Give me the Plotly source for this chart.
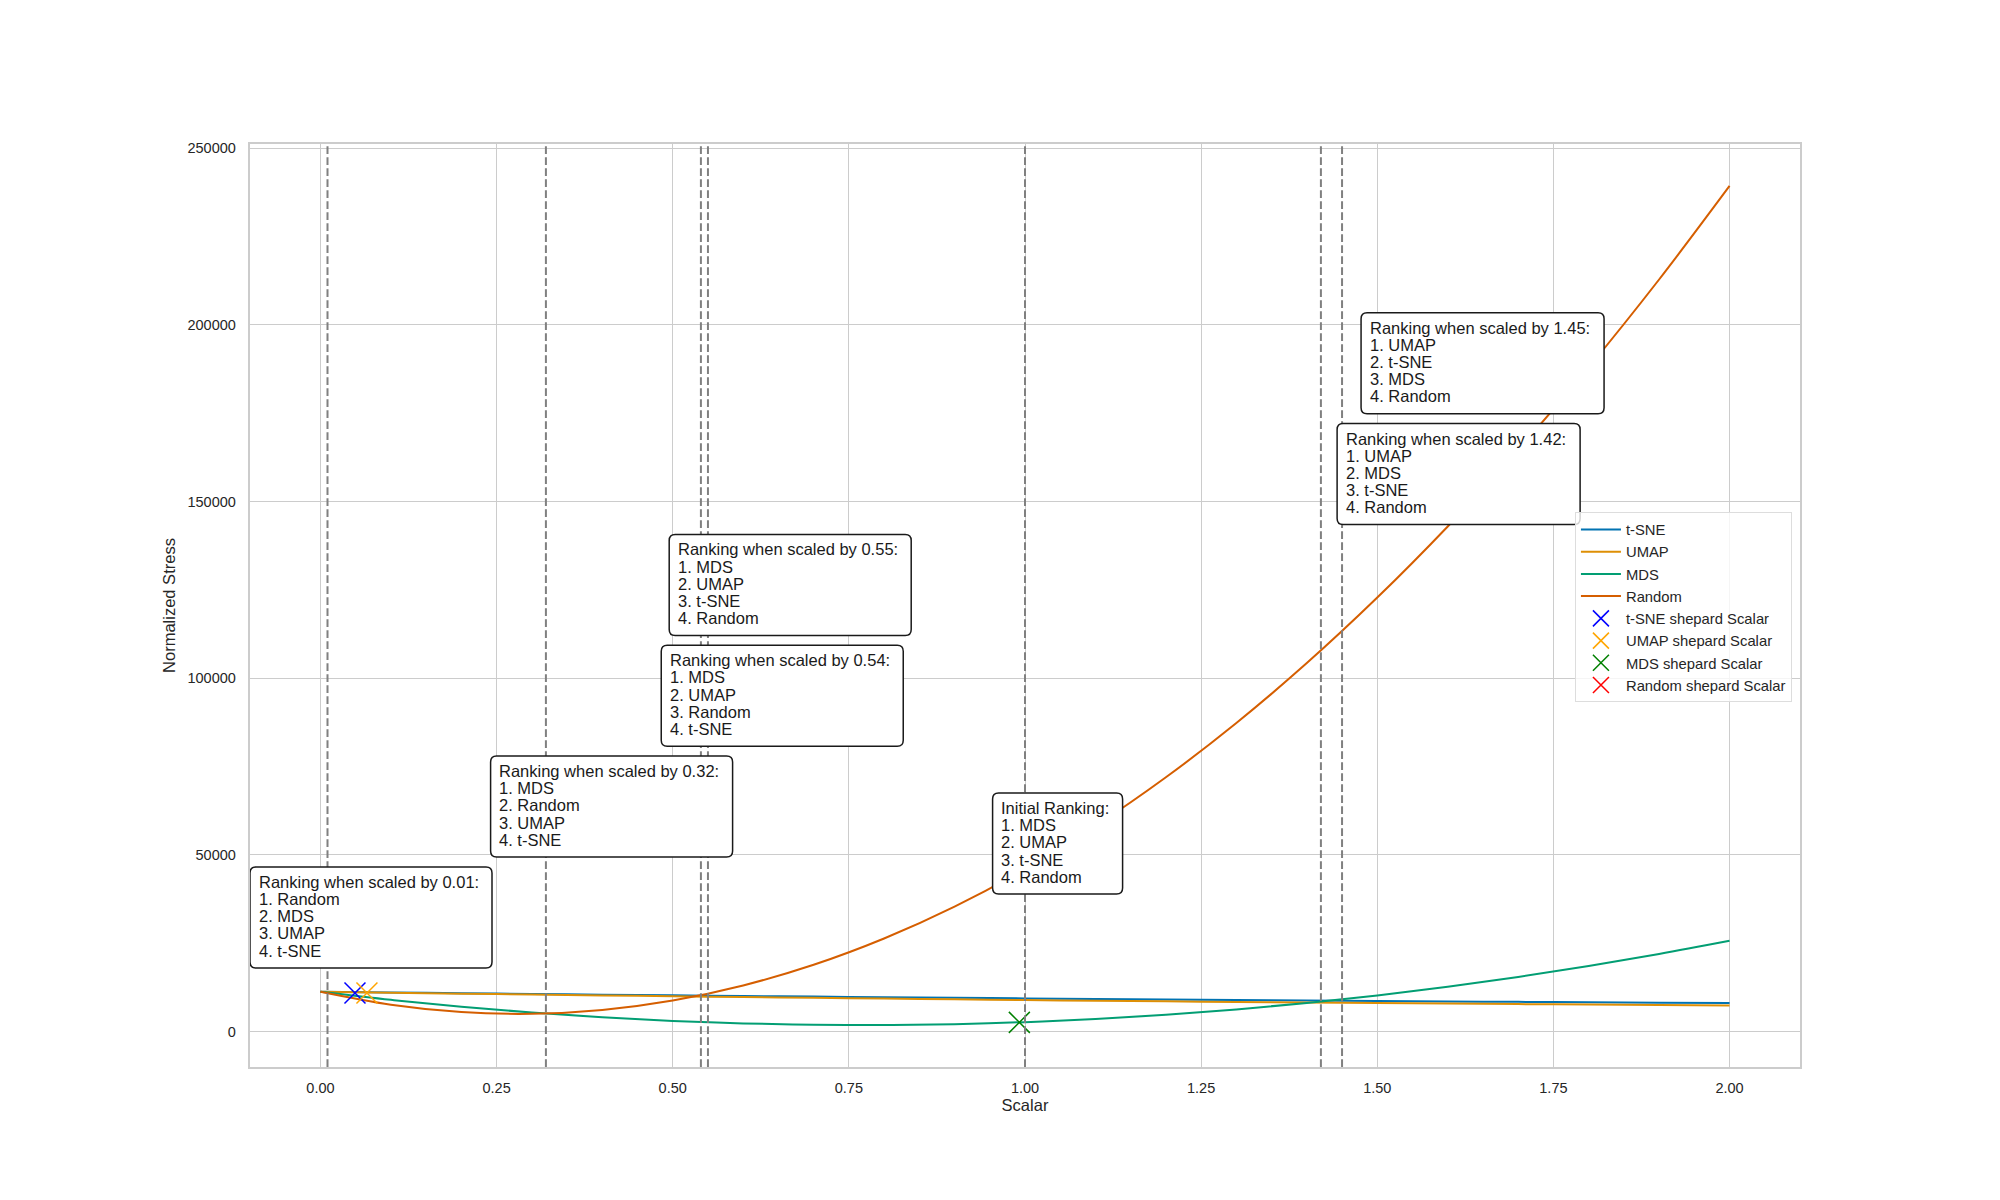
import plotly.graph_objects as go

# ---- data ----
scalars = [0.0, 0.1, 0.2, 0.3, 0.4, 0.5, 0.6, 0.7, 0.8, 0.9, 1.0,
           1.1, 1.2, 1.3, 1.4, 1.5, 1.6, 1.7, 1.8, 1.9, 2.0]
tsne_stress = [11300, 11087, 10879, 10677, 10481, 10290, 10105, 9925, 9751, 9583, 9420,
               9263, 9111, 8965, 8825, 8690, 8561, 8437, 8319, 8207, 8100]
umap_stress = [11300, 11027, 10763, 10507, 10259, 10020, 9789, 9567, 9353, 9147, 8950,
               8761, 8581, 8409, 8245, 8090, 7943, 7805, 7675, 7553, 7440]
mds_stress = [11300, 9017, 7050, 5400, 4066, 3048, 2346, 1960, 1890, 2137, 2700,
              3579, 4774, 6286, 8114, 10258, 12718, 15494, 18586, 21995, 25720]
random_stress = [11300, 7634, 5554, 5060, 6152, 8828, 13092, 18940, 26374, 35394, 46000,
                 58191, 71968, 87331, 104280, 122813, 142934, 164639, 187930, 212807, 239270]

series_names = ["t-SNE", "UMAP", "MDS", "Random"]
series_values = [tsne_stress, umap_stress, mds_stress, random_stress]
series_colors = ["#0173b2", "#de8f05", "#029e73", "#d55e00"]

shepard_names = ["t-SNE shepard Scalar", "UMAP shepard Scalar", "MDS shepard Scalar", "Random shepard Scalar"]
shepard_x = [0.049, 0.066, 0.992, 1.0]
shepard_y = [10950, 10950, 2630, 46000]
shepard_colors = ["blue", "orange", "green", "red"]

vline_x = [0.01, 0.32, 0.54, 0.55, 1.0, 1.42, 1.45]

ann_lines = [
    ["Ranking when scaled by 0.01:", "1. Random", "2. MDS", "3. UMAP", "4. t-SNE"],
    ["Ranking when scaled by 0.32:", "1. MDS", "2. Random", "3. UMAP", "4. t-SNE"],
    ["Ranking when scaled by 0.54:", "1. MDS", "2. UMAP", "3. Random", "4. t-SNE"],
    ["Ranking when scaled by 0.55:", "1. MDS", "2. UMAP", "3. t-SNE", "4. Random"],
    ["Initial Ranking:", "1. MDS", "2. UMAP", "3. t-SNE", "4. Random"],
    ["Ranking when scaled by 1.42:", "1. UMAP", "2. MDS", "3. t-SNE", "4. Random"],
    ["Ranking when scaled by 1.45:", "1. UMAP", "2. t-SNE", "3. MDS", "4. Random"],
]
# top-left corner of each text box (data coords)
ann_x = [-0.100, 0.2415, 0.4837, 0.4950, 0.954, 1.443, 1.477]
ann_y = [46610, 77970, 109320, 140680, 67510, 172030, 203390]
box_w = [242, 242, 242, 242, 130, 243, 243]
BOX_H = 101
LINE_STEP = 17.2

x_ticks = [0.0, 0.25, 0.5, 0.75, 1.0, 1.25, 1.5, 1.75, 2.0]
y_ticks = [0, 50000, 100000, 150000, 200000, 250000]

FONT = "Liberation Sans, Arial, Helvetica, sans-serif"
TXT = "#262626"


def rounded_box_path(w, h, r=6):
    return (f"M {r},0 L {w - r},0 Q {w},0 {w},{-r} L {w},{-(h - r)} Q {w},{-h} {w - r},{-h} "
            f"L {r},{-h} Q 0,{-h} 0,{-(h - r)} L 0,{-r} Q 0,0 {r},0 Z")


fig = go.Figure()
for name, vals, col in zip(series_names, series_values, series_colors):
    fig.add_trace(go.Scatter(x=scalars, y=vals, mode="lines", name=name,
                             line=dict(color=col, width=2, shape="spline", smoothing=1)))
for name, xs, ys, col in zip(shepard_names, shepard_x, shepard_y, shepard_colors):
    fig.add_trace(go.Scatter(x=[xs], y=[ys], mode="markers", name=name,
                             marker=dict(symbol="x-thin", size=21, color=col,
                                         line=dict(color=col, width=1.5))))

for vx in vline_x:
    fig.add_shape(type="line", xref="x", yref="paper", x0=vx, x1=vx, y0=0, y1=1,
                  line=dict(color="#808080", width=2, dash="7.7px,3.3px"))

for lines, bx, by, w in zip(ann_lines, ann_x, ann_y, box_w):
    fig.add_shape(type="path", xref="x", yref="y", xsizemode="pixel", ysizemode="pixel",
                  xanchor=bx, yanchor=by, path=rounded_box_path(w, BOX_H),
                  fillcolor="white", line=dict(color="#1a1a1a", width=1.5), layer="above")
    for i, t in enumerate(lines):
        fig.add_annotation(x=bx, y=by, xref="x", yref="y", text=t, showarrow=False,
                           xanchor="left", yanchor="middle", align="left",
                           xshift=6.5, yshift=-(14.9 + i * LINE_STEP),
                           font=dict(family=FONT, size=16.5, color="#1a1a1a"))

fig.update_layout(
    width=2000, height=1200,
    margin=dict(l=242, r=208, t=136, b=141),
    paper_bgcolor="white", plot_bgcolor="white",
    font=dict(family=FONT, color=TXT),
    legend=dict(x=0.9948, y=0.601, xanchor="right", yanchor="top",
                bgcolor="rgba(255,255,255,0.8)", bordercolor="#dddddd", borderwidth=1,
                font=dict(family=FONT, size=14.8, color=TXT), tracegroupgap=0,
                itemwidth=40),
    showlegend=True,
)
fig.update_xaxes(range=[-0.1, 2.1], tickvals=x_ticks, tickformat=".2f",
                 showgrid=True, gridcolor="#cccccc", gridwidth=1.3,
                 showline=True, linecolor="#cccccc", linewidth=1.5, mirror=True,
                 zeroline=False, ticks="outside", ticklen=7, tickcolor="rgba(0,0,0,0)",
                 tickfont=dict(size=14.5, color=TXT),
                 title=dict(text="Scalar", font=dict(size=16.5, color=TXT), standoff=4))
fig.update_yaxes(range=[-9992, 251140], tickvals=y_ticks, tickformat="d",
                 showgrid=True, gridcolor="#cccccc", gridwidth=1.3,
                 showline=True, linecolor="#cccccc", linewidth=1.5, mirror=True,
                 zeroline=False, ticks="outside", ticklen=9.5, tickcolor="rgba(0,0,0,0)",
                 tickfont=dict(size=14.5, color=TXT),
                 title=dict(text="Normalized Stress", font=dict(size=16.5, color=TXT), standoff=7.5))

fig.write_html("out.html")
